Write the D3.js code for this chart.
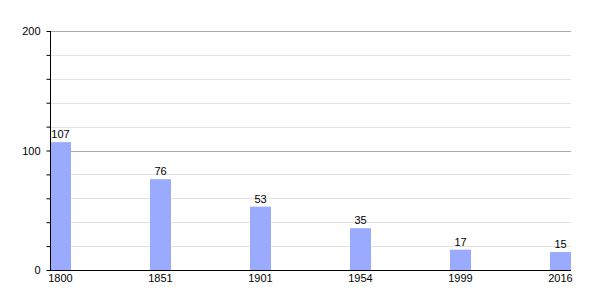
<!DOCTYPE html>
<html>
<head>
<meta charset="utf-8">
<script src="https://cdn.jsdelivr.net/npm/d3@7"></script>
<style>
  body { margin: 0; background: #fff; }
  text { font-family: "Liberation Sans", Arial, sans-serif; font-size: 11px; fill: #000; }
</style>
</head>
<body>
<svg id="chart" width="600" height="300"></svg>
<script>
const years = ["1800", "1851", "1901", "1954", "1999", "2016"];
const population = [107, 76, 53, 35, 17, 15];
const yTicks = [0, 100, 200];

const svg = d3.select("#chart");
const plotLeft = 50, plotRight = 571, plotTop = 31, plotBottom = 270;
const barWidth = 21;

const x = d3.scalePoint()
  .domain(years)
  .range([plotLeft, plotRight - barWidth]);

const y = d3.scaleLinear()
  .domain([0, 200])
  .range([plotBottom, plotTop]);

// gridlines
svg.append("g")
  .selectAll("line")
  .data(d3.range(20, 201, 20))
  .join("line")
  .attr("x1", plotLeft)
  .attr("x2", plotRight)
  .attr("y1", d => Math.round(y(d)) + 0.5)
  .attr("y2", d => Math.round(y(d)) + 0.5)
  .attr("stroke", d => d % 100 === 0 ? "#a8a8a8" : "#e2e2e2")
  .attr("stroke-width", 1);

// bars
svg.append("g")
  .selectAll("rect")
  .data(population)
  .join("rect")
  .attr("x", (d, i) => x(years[i]))
  .attr("y", d => y(d))
  .attr("width", barWidth)
  .attr("height", d => plotBottom - y(d))
  .attr("fill", "#99aaff");

// value labels
svg.append("g")
  .selectAll("text")
  .data(population)
  .join("text")
  .attr("x", (d, i) => x(years[i]) + barWidth / 2)
  .attr("y", d => y(d) - 4)
  .attr("text-anchor", "middle")
  .text(d => d);

// y axis
const yAxis = svg.append("g")
  .attr("transform", `translate(${plotLeft + 0.5},0)`)
  .call(d3.axisLeft(y).tickValues(d3.range(0, 201, 20)).tickSize(4).tickFormat(d => yTicks.includes(d) ? d : ""));
yAxis.select(".domain").attr("stroke", "#000").attr("d", `M0,${plotTop}V${plotBottom}`);
yAxis.selectAll(".tick line").attr("stroke", "#000");
yAxis.selectAll(".tick text")
  .attr("x", -10)
  .style("font-family", "Liberation Sans, Arial, sans-serif")
  .style("font-size", "11px");

// x axis
svg.append("line")
  .attr("x1", plotLeft)
  .attr("x2", plotRight)
  .attr("y1", plotBottom + 0.5)
  .attr("y2", plotBottom + 0.5)
  .attr("stroke", "#000");

svg.append("g")
  .selectAll("text")
  .data(years)
  .join("text")
  .attr("x", d => x(d) + barWidth / 2)
  .attr("y", plotBottom + 12)
  .attr("text-anchor", "middle")
  .text(d => d);
</script>
</body>
</html>
